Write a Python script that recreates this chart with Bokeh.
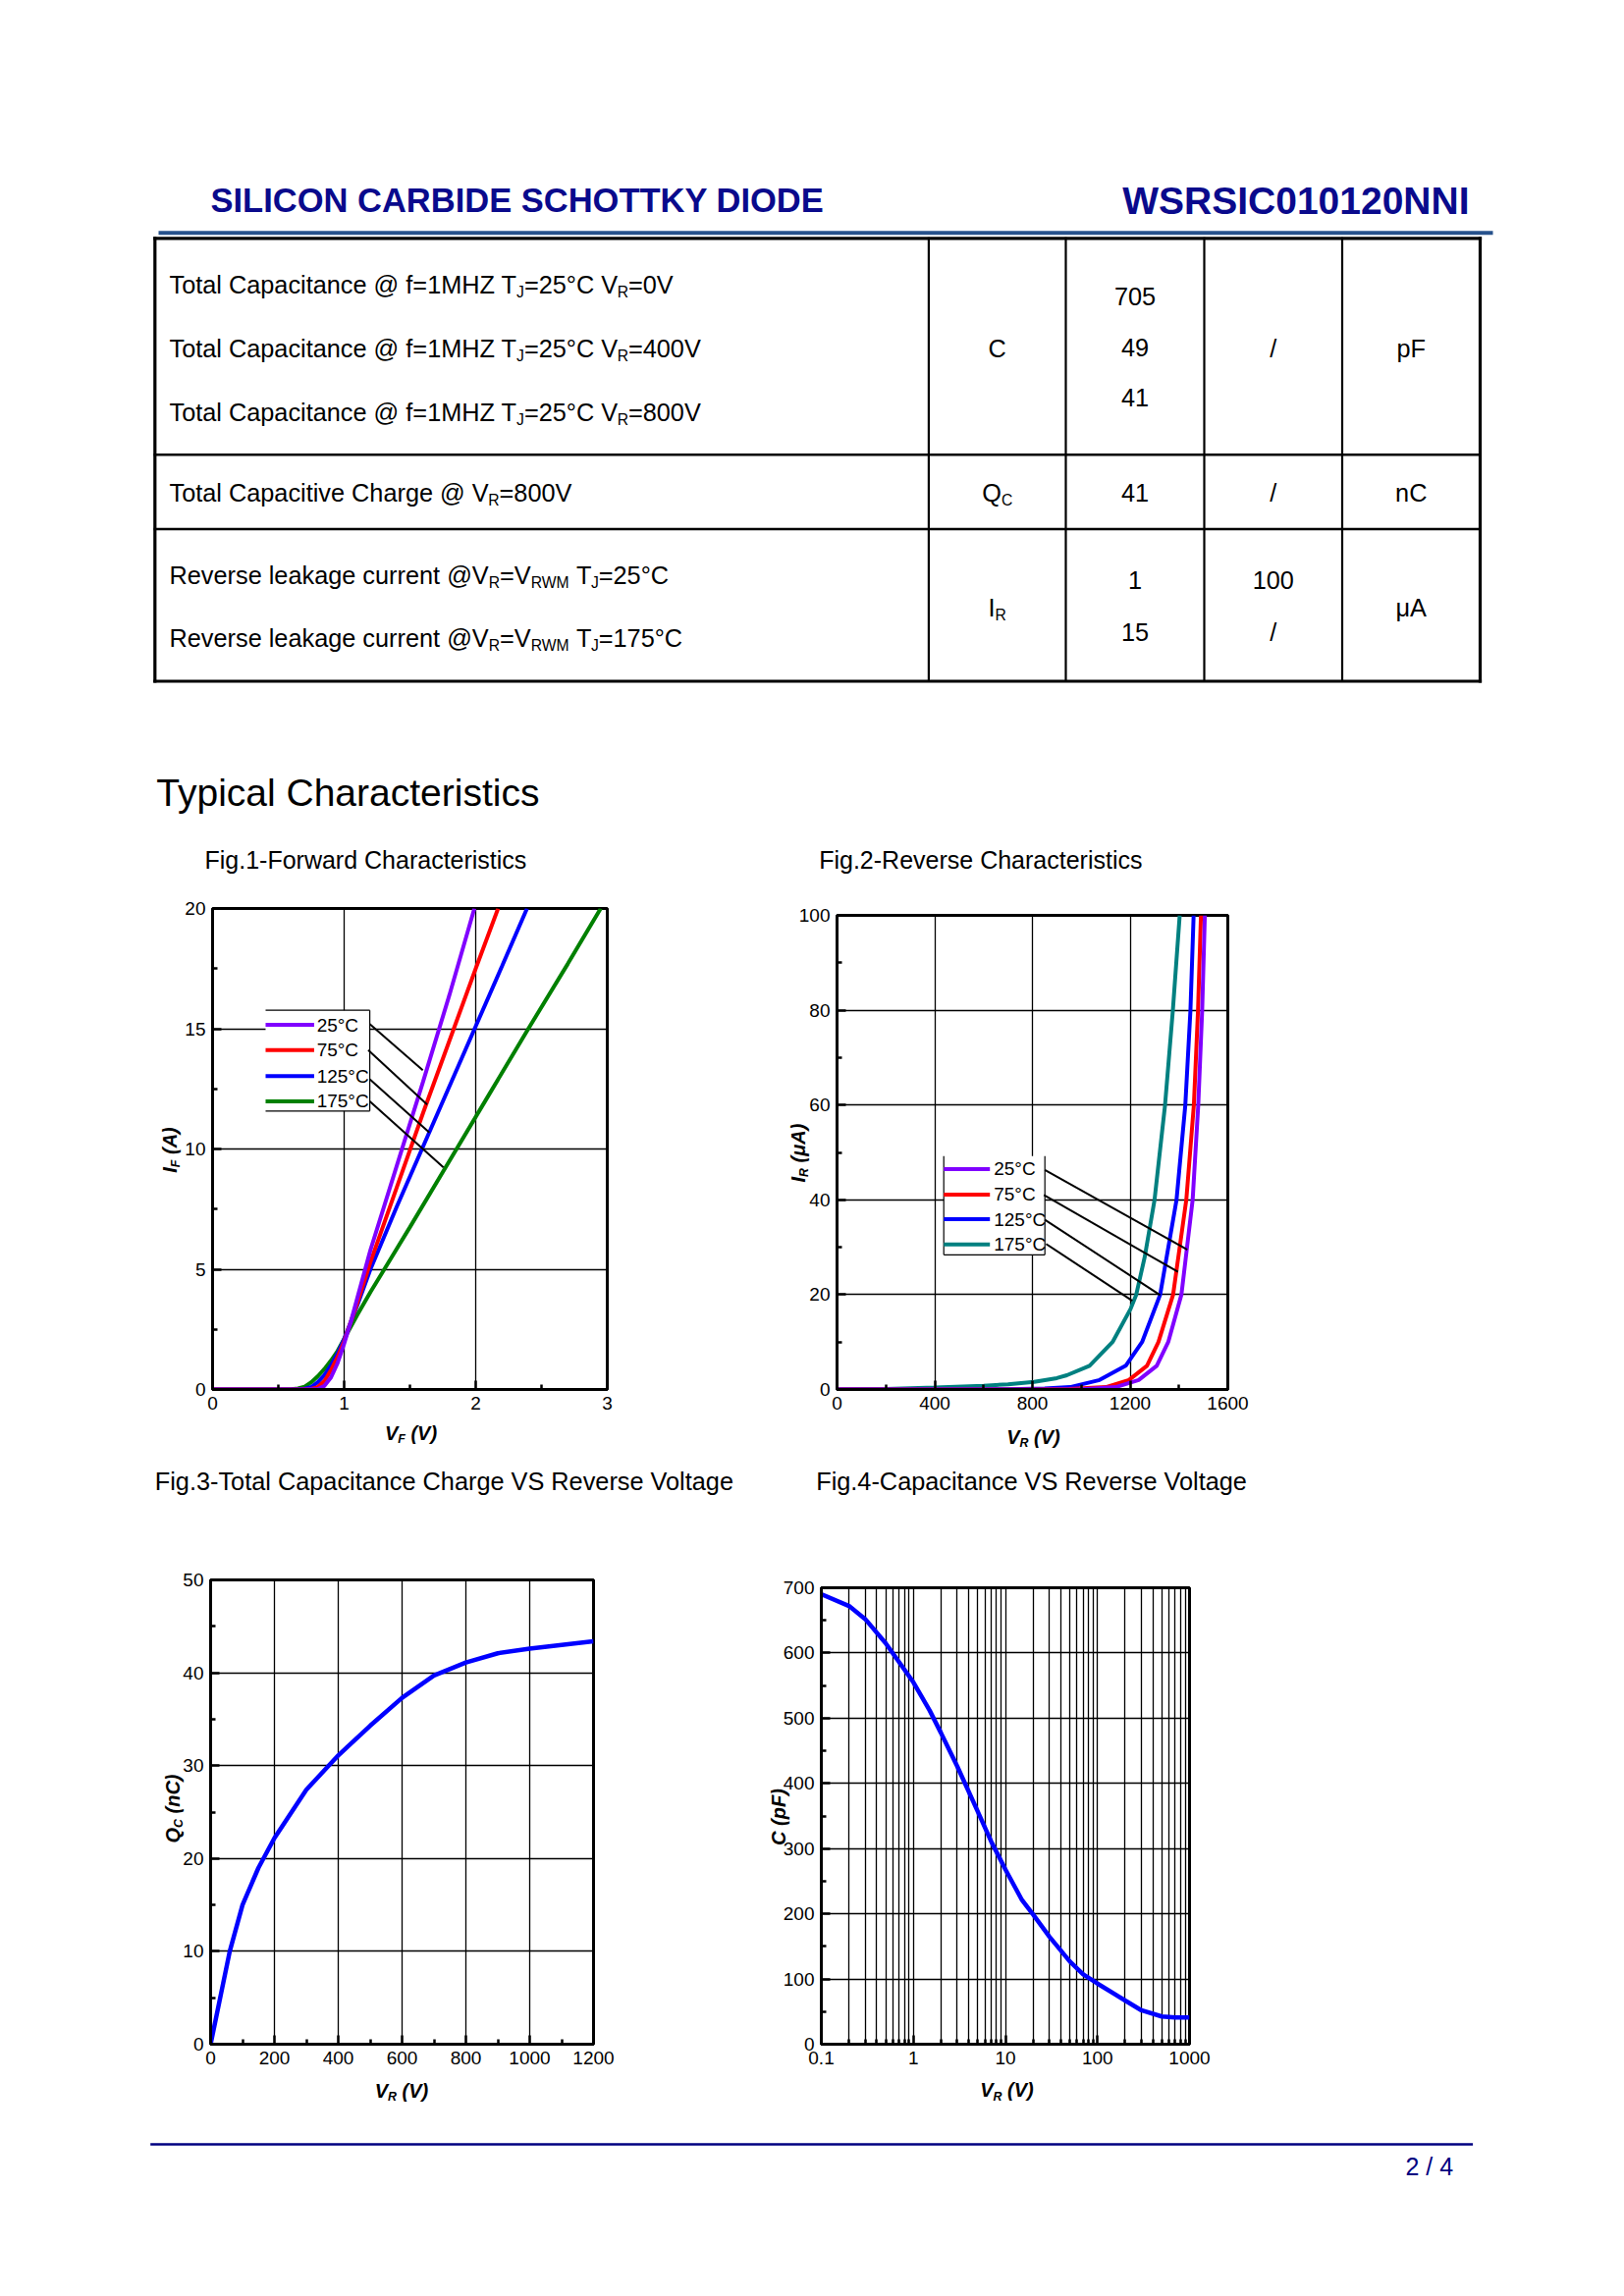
import math
from bokeh.plotting import figure
from bokeh.models import Range1d, FixedTicker, Label, CustomJSTickFormatter
from bokeh.layouts import column, row
from bokeh.embed import file_html
from bokeh.resources import INLINE
from bokeh.core.properties import value

FONT = "Liberation Sans"
NAVY = "#0a0a8c"
RULE = "#27528c"
PURPLE, RED, BLUE, GREEN, TEAL = "#8000ff", "#ff0000", "#0000ff", "#008000", "#008080"

# ---------------- data ----------------
# Fig.1 forward characteristics: VF (V) vs IF (A)
vf_25 = [0, 0.5, 0.7, 0.8, 0.85, 0.9, 0.95, 1.0, 1.05, 1.1, 1.2, 1.4, 1.6, 1.8, 1.99]
if_25 = [0, 0, 0, 0.02, 0.15, 0.5, 1.1, 1.9, 2.8, 3.8, 5.8, 9.3, 12.8, 16.4, 20]
vf_75 = [0, 0.5, 0.7, 0.75, 0.8, 0.85, 0.9, 0.95, 1.0, 1.05, 1.1, 1.2, 1.4, 1.6, 1.8, 2.0, 2.17]
if_75 = [0, 0, 0, 0.02, 0.1, 0.35, 0.8, 1.35, 2.0, 2.8, 3.6, 5.3, 8.4, 11.5, 14.5, 17.5, 20]
vf_125 = [0, 0.5, 0.65, 0.7, 0.75, 0.8, 0.85, 0.9, 0.95, 1.0, 1.1, 1.2, 1.4, 1.6, 1.8, 2.0, 2.2, 2.39]
if_125 = [0, 0, 0.01, 0.03, 0.1, 0.3, 0.6, 1.0, 1.5, 2.1, 3.5, 5.0, 7.6, 10.1, 12.6, 15.1, 17.6, 20]
vf_175 = [0, 0.5, 0.6, 0.65, 0.7, 0.75, 0.8, 0.85, 0.9, 0.95, 1.0, 1.1, 1.2, 1.3, 1.5, 1.8, 2.1, 2.4, 2.7, 2.95]
if_175 = [0, 0, 0.01, 0.04, 0.12, 0.3, 0.55, 0.85, 1.2, 1.6, 2.1, 3.1, 4.05, 4.95, 6.75, 9.5, 12.25, 15.0, 17.7, 20]

# Fig.2 reverse characteristics: VR (V) vs IR (uA)
vr_25 = [0, 400, 800, 1000, 1141, 1235, 1309, 1356, 1410, 1456, 1479, 1495, 1506]
ir_25 = [0, 0, 0, 0.05, 0.5, 2, 5, 10, 20, 40, 60, 80, 100]
vr_75 = [0, 400, 800, 950, 1101, 1195, 1269, 1316, 1376, 1430, 1461, 1478, 1490]
ir_75 = [0, 0, 0.02, 0.1, 0.5, 2, 5, 10, 20, 40, 60, 80, 100]
vr_125 = [0, 400, 700, 850, 954, 1075, 1182, 1249, 1323, 1390, 1426, 1447, 1460]
ir_125 = [0, 0, 0.05, 0.2, 0.5, 2, 5, 10, 20, 40, 60, 80, 100]
vr_175 = [0, 200, 400, 600, 700, 807, 900, 941, 1034, 1128, 1202, 1225, 1260, 1300, 1343, 1375, 1403]
ir_175 = [0, 0.1, 0.4, 0.8, 1.1, 1.6, 2.4, 3, 5, 10, 17, 20, 28, 40, 60, 80, 100]

# Fig.3 total capacitive charge: VR (V) vs QC (nC)
vr_q = [0, 60, 100, 150, 200, 300, 400, 500, 600, 700, 800, 900, 1000, 1100, 1200]
qc = [0, 10, 15, 19, 22.2, 27.4, 31.1, 34.3, 37.3, 39.7, 41.1, 42.1, 42.6, 43.0, 43.4]

# Fig.4 capacitance: VR (V) vs C (pF)
vr_c = [0.1, 0.2, 0.3, 0.5, 0.7, 1, 1.5, 2, 3, 5, 7, 10, 15, 20, 30, 50, 70, 100, 200, 300, 500, 700, 1000]
cap = [690, 672, 652, 615, 586, 555, 512, 477, 426, 357, 311, 268, 222, 199, 165, 127, 107, 93, 67, 52, 42.5, 41, 41]

# ticks
F1_XT, F1_XM = [0, 1, 2, 3], [0.5, 1.5, 2.5]
F1_YT, F1_YM = [0, 5, 10, 15, 20], [2.5, 7.5, 12.5, 17.5]
F2_XT, F2_XM = [0, 400, 800, 1200, 1600], [200, 600, 1000, 1400]
F2_YT, F2_YM = [0, 20, 40, 60, 80, 100], [10, 30, 50, 70, 90]
F3_XT, F3_XM = [0, 200, 400, 600, 800, 1000, 1200], [100, 300, 500, 700, 900, 1100]
F3_YT, F3_YM = [0, 10, 20, 30, 40, 50], [5, 15, 25, 35, 45]
F4_XT = [0.1, 1, 10, 100, 1000]
F4_XM = [m * d for d in (0.1, 1, 10, 100) for m in (2, 3, 4, 5, 6, 7, 8, 9)]
F4_YT, F4_YM = [0, 100, 200, 300, 400, 500, 600, 700], [50, 150, 250, 350, 450, 550, 650]

legend_labels = ["25°C", "75°C", "125°C", "175°C"]

# table content (text, kind) kind: n normal, s subscript
row1_desc = [
    [("Total Capacitance @ f=1MHZ T", "n"), ("J", "s"), ("=25°C V", "n"), ("R", "s"), ("=0V", "n")],
    [("Total Capacitance @ f=1MHZ T", "n"), ("J", "s"), ("=25°C V", "n"), ("R", "s"), ("=400V", "n")],
    [("Total Capacitance @ f=1MHZ T", "n"), ("J", "s"), ("=25°C V", "n"), ("R", "s"), ("=800V", "n")],
]
row2_desc = [[("Total Capacitive Charge @ V", "n"), ("R", "s"), ("=800V", "n")]]
row3_desc = [
    [("Reverse leakage current @V", "n"), ("R", "s"), ("=V", "n"), ("RWM", "s"), (" T", "n"), ("J", "s"), ("=25°C", "n")],
    [("Reverse leakage current @V", "n"), ("R", "s"), ("=V", "n"), ("RWM", "s"), (" T", "n"), ("J", "s"), ("=175°C", "n")],
]
sym_c = [("C", "n")]
sym_qc = [("Q", "n"), ("C", "s")]
sym_ir = [("I", "n"), ("R", "s")]
typ_c = ["705", "49", "41"]
typ_qc = ["41"]
typ_ir = ["1", "15"]
max_ir = ["100", "/"]
units = ["pF", "nC", "μA"]

# ---------------- text metrics (Arial / Liberation Sans) ----------------
_REG, _BOLD = {}, {}
for ch, w in zip("ABCDEFGHIJKLMNOPQRSTUVWXYZ", [667, 667, 722, 722, 667, 611, 778, 722, 278, 500, 667, 556, 833, 722, 778, 667, 778, 722, 667, 611, 722, 667, 944, 667, 667, 611]):
    _REG[ch] = w
for ch, w in zip("abcdefghijklmnopqrstuvwxyz", [556, 556, 500, 556, 556, 278, 556, 556, 222, 222, 500, 222, 833, 556, 556, 556, 556, 333, 500, 278, 556, 500, 722, 500, 500, 500]):
    _REG[ch] = w
for ch, w in zip("ABCDEFGHIJKLMNOPQRSTUVWXYZ", [722, 722, 722, 722, 667, 611, 778, 722, 278, 556, 722, 611, 833, 722, 778, 667, 778, 722, 667, 611, 722, 667, 944, 667, 667, 611]):
    _BOLD[ch] = w
for ch, w in zip("abcdefghijklmnopqrstuvwxyz", [556, 611, 556, 611, 556, 333, 611, 611, 278, 278, 556, 278, 889, 611, 611, 611, 611, 389, 556, 333, 611, 556, 778, 556, 556, 500]):
    _BOLD[ch] = w
for t in (_REG, _BOLD):
    for ch in "0123456789":
        t[ch] = 556
    t.update({" ": 278, "(": 333, ")": 333, "-": 333, ".": 278, "/": 278, "=": 584, "@": 1015, "°": 400})
_REG["μ"] = 576
_BOLD["μ"] = 611
KERN = {"To": -111, " T": -18, " V": -18}
SUB = 0.62


def tw(s, size, bold=False):
    t = _BOLD if bold else _REG
    w = sum(t.get(c, 556) for c in s)
    w += sum(KERN.get(s[i:i + 2], 0) for i in range(len(s) - 1))
    return w * size / 1000.0


def sub_drop(size, drop):
    # shift of a subscript's centre below the main text's centre
    return (0.35 * (1 - SUB) + drop) * size


def rich(p, parts, x, y, size, color="black", bold=False, align="left"):
    # y = vertical centre of the main text (page pixels, downward)
    ws = [tw(s, size * (SUB if k == "s" else 1), bold) for s, k in parts]
    tot = sum(ws)
    if align == "center":
        x -= tot / 2
    elif align == "right":
        x -= tot
    xs, ys, ts, ss = [], [], [], []
    for (s, k), w in zip(parts, ws):
        sz = size * (SUB if k == "s" else 1)
        lead = len(s) - len(s.lstrip(" "))
        xs.append(x + lead * 278 * sz / 1000)
        ys.append(y + (sub_drop(size, 0.17) if k == "s" else 0))
        ts.append(s.strip(" "))
        ss.append("%.2fpx" % sz)
        x += w
    p.text(x=xs, y=ys, text=ts, text_font_size=ss, text_font=value(FONT),
           text_font_style="bold" if bold else "normal", text_color=color,
           text_baseline="middle", text_align="left")


def no_align(p):
    if "frame_align" in p.properties():
        p.frame_align = False


PAGE_W = 1638


def page_fig(y0, y1):
    p = figure(width=PAGE_W, height=int(y1 - y0), x_range=Range1d(0, PAGE_W), y_range=Range1d(y1, y0),
               output_backend="svg", toolbar_location=None, min_border=0,
               x_axis_location=None, y_axis_location=None, title=None)
    p.min_border_left = p.min_border_right = p.min_border_top = p.min_border_bottom = 0
    p.grid.visible = False
    p.outline_line_color = None
    p.background_fill_color = "white"
    p.border_fill_color = "white"
    no_align(p)
    return p


# chart canvases and frames in page pixels
F1 = dict(cl=0, ct=890, w=640, h=600, fl=216, fr=618, ft=925, fb=1415)
F2 = dict(cl=640, ct=890, w=650, h=600, fl=852, fr=1250, ft=932, fb=1415)
F3 = dict(cl=0, ct=1550, w=630, h=610, fl=214, fr=604, ft=1609, fb=2082)
F4 = dict(cl=630, ct=1550, w=660, h=610, fl=836, fr=1211, ft=1617, fb=2082)

SPECS = {}


def chart(spec, xr, yr, xt, xm, yt, ym, log=False):
    p = figure(width=spec["w"], height=spec["h"], x_range=Range1d(*xr), y_range=Range1d(*yr),
               x_axis_type="log" if log else "linear", title=None,
               output_backend="svg", toolbar_location=None,
               min_border_left=spec["fl"] - spec["cl"],
               min_border_right=spec["cl"] + spec["w"] - spec["fr"],
               min_border_top=spec["ft"] - spec["ct"],
               min_border_bottom=spec["ct"] + spec["h"] - spec["fb"])
    no_align(p)
    p.background_fill_color = "white"
    p.border_fill_color = "white"
    p.outline_line_color = "black"
    p.outline_line_width = 3
    xtick = FixedTicker(ticks=xt, minor_ticks=xm)
    ytick = FixedTicker(ticks=yt, minor_ticks=ym)
    p.xaxis.ticker = xtick
    p.yaxis.ticker = ytick
    p.xgrid.ticker = xtick
    p.ygrid.ticker = ytick
    for ax in (p.xaxis[0], p.yaxis[0]):
        ax.axis_line_width = 3
        ax.axis_line_color = "black"
        ax.major_tick_in = 9
        ax.major_tick_out = 0
        ax.minor_tick_in = 5
        ax.minor_tick_out = 0
        ax.major_tick_line_width = 2.5
        ax.minor_tick_line_width = 2.5
        ax.major_tick_line_color = "black"
        ax.minor_tick_line_color = "black"
        ax.major_label_text_font = FONT
        ax.major_label_text_font_size = "19px"
        ax.major_label_text_color = "black"
    p.xaxis.major_label_standoff = 7
    p.yaxis.major_label_standoff = 7
    p.grid.grid_line_color = "black"
    p.grid.grid_line_width = 1.3
    p.grid.grid_line_alpha = 1.0
    SPECS[id(p)] = (spec, xr, yr, log)
    return p


def to_data(p, px, py):
    spec, xr, yr, log = SPECS[id(p)]
    fx = (px - spec["fl"]) / (spec["fr"] - spec["fl"])
    fy = (spec["fb"] - py) / (spec["fb"] - spec["ft"])
    if log:
        lx = math.log10(xr[0]) + fx * (math.log10(xr[1]) - math.log10(xr[0]))
        x = 10 ** lx
    else:
        x = xr[0] + fx * (xr[1] - xr[0])
    y = yr[0] + fy * (yr[1] - yr[0])
    return x, y


def axis_text(p, parts, cx, cy, vertical=False, size=20):
    # (cx, cy): centre of the label in page pixels
    ws = [tw(s, size * (SUB if k == "s" else 1), True) for s, k in parts]
    pos = (cy + sum(ws) / 2) if vertical else (cx - sum(ws) / 2)
    for (s, k), w in zip(parts, ws):
        sz = size * (SUB if k == "s" else 1)
        off = sub_drop(size, 0.2) if k == "s" else 0
        lead = len(s) - len(s.lstrip(" "))
        shift = lead * 278 * sz / 1000
        common = dict(text=s.strip(" "), text_font=FONT, text_font_size="%.2fpx" % sz,
                      text_font_style="bold italic", text_color="black",
                      text_baseline="middle", text_align="left",
                      x_units="data", y_units="data")
        if vertical:
            x, y = to_data(p, cx + off, pos - shift)
            lab = Label(x=x, y=y, angle=math.pi / 2, **common)
            pos -= w
        else:
            x, y = to_data(p, pos + shift, cy + off)
            lab = Label(x=x, y=y, **common)
            pos += w
        p.add_layout(lab, "left")


def legend(p, box_x, box_y, sides, sample_x, entry_y, text_x, colors, lead, lw=4):
    p.quad(left=[box_x[0]], right=[box_x[1]], bottom=[box_y[0]], top=[box_y[1]],
           fill_color="white", line_color=None)
    seg = {"top": (box_x[0], box_y[1], box_x[1], box_y[1]),
           "bottom": (box_x[0], box_y[0], box_x[1], box_y[0]),
           "left": (box_x[0], box_y[0], box_x[0], box_y[1]),
           "right": (box_x[1], box_y[0], box_x[1], box_y[1])}
    ss = [seg[s] for s in sides]
    p.segment(x0=[s[0] for s in ss], y0=[s[1] for s in ss], x1=[s[2] for s in ss], y1=[s[3] for s in ss],
              line_color="black", line_width=1.2)
    for yy, c in zip(entry_y, colors):
        p.line(x=sample_x, y=[yy, yy], line_color=c, line_width=lw)
    p.text(x=[text_x] * len(entry_y), y=entry_y, text=legend_labels, text_font=value(FONT),
           text_font_size="19px", text_baseline="middle", text_align="left", text_color="black")
    p.segment(x0=lead[0], y0=lead[1], x1=lead[2], y1=lead[3], line_color="black", line_width=2)


# ---------------- top: header + table + section titles ----------------
top = page_fig(0, 890)
top.text(x=[214], y=[203], text=["SILICON CARBIDE SCHOTTKY DIODE"], text_font=value(FONT),
         text_font_size="34.5px", text_font_style="bold", text_color=NAVY, text_baseline="middle")
top.text(x=[1496], y=[203.5], text=["WSRSIC010120NNI"], text_font=value(FONT),
         text_font_size="39px", text_font_style="bold", text_color=NAVY, text_baseline="middle",
         text_align="right")
top.segment(x0=[161], y0=[236.7], x1=[1520], y1=[236.7], line_color=RULE, line_width=4)

TAB_X = [157.3, 945.4, 1085, 1226, 1366.5, 1507]
TAB_Y = [242.3, 462.8, 538.5, 693.5]
top.segment(x0=[TAB_X[0]] * 4, x1=[TAB_X[-1]] * 4, y0=TAB_Y, y1=TAB_Y, line_color="black",
            line_width=[3.2, 2.6, 2.6, 3.2], line_cap="square")
top.segment(x0=TAB_X, x1=TAB_X, y0=[TAB_Y[0]] * 6, y1=[TAB_Y[-1]] * 6, line_color="black",
            line_width=[3.2, 2.2, 2.2, 2.2, 2.2, 3.2], line_cap="square")

TS = 25.3
col_c = [(TAB_X[i] + TAB_X[i + 1]) / 2 for i in range(1, 5)]
for parts, yc in zip(row1_desc, [289.3, 354, 419.3]):
    rich(top, parts, 172, yc, TS)
for parts, yc in zip(row2_desc, [501.7]):
    rich(top, parts, 172, yc, TS)
for parts, yc in zip(row3_desc, [585, 649]):
    rich(top, parts, 172, yc, TS)
rich(top, sym_c, col_c[0], 354, TS, align="center")
rich(top, sym_qc, col_c[0], 501.7, TS, align="center")
rich(top, sym_ir, col_c[0], 618, TS, align="center")
for t, yc in zip(typ_c, [301, 353.5, 404.5]):
    rich(top, [(t, "n")], col_c[1], yc, TS, align="center")
rich(top, [(typ_qc[0], "n")], col_c[1], 501.7, TS, align="center")
for t, yc in zip(typ_ir, [590, 643]):
    rich(top, [(t, "n")], col_c[1], yc, TS, align="center")
rich(top, [("/", "n")], col_c[2], 354, TS, align="center")
rich(top, [("/", "n")], col_c[2], 501.7, TS, align="center")
for t, yc in zip(max_ir, [590, 643]):
    rich(top, [(t, "n")], col_c[2], yc, TS, align="center")
for t, yc in zip(units, [354, 501.7, 618]):
    rich(top, [(t, "n")], col_c[3], yc, TS, align="center")

top.text(x=[158.8], y=[807], text=["Typical Characteristics"], text_font=value(FONT),
         text_font_size="39px", text_color="black", text_baseline="middle")
top.text(x=[208, 833.7], y=[875.5, 875.5], text=["Fig.1-Forward Characteristics", "Fig.2-Reverse Characteristics"],
         text_font=value(FONT), text_font_size="25px", text_color="black", text_baseline="middle")

# ---------------- Fig.1 ----------------
f1 = chart(F1, (0, 3), (0, 20), F1_XT, F1_XM, F1_YT, F1_YM)
for xs, ys, c in ((vf_175, if_175, GREEN), (vf_125, if_125, BLUE), (vf_75, if_75, RED), (vf_25, if_25, PURPLE)):
    f1.line(xs, ys, line_color=c, line_width=4)
F1_LEAD = ([1.195, 1.183, 1.195, 1.195], [15.19, 14.11, 12.9, 11.98],
           [1.598, 1.631, 1.648, 1.755], [13.28, 11.85, 10.68, 9.23])
legend(f1, (0.403, 1.195), (11.58, 15.77), ["top", "right", "bottom"], [0.403, 0.772],
       [15.16, 14.11, 13.03, 11.98], 0.792, [PURPLE, RED, BLUE, GREEN], F1_LEAD)
axis_text(f1, [("I", "n"), ("F", "s"), (" (A)", "n")], 172, 1171, vertical=True)
axis_text(f1, [("V", "n"), ("F", "s"), (" (V)", "n")], 418, 1459)

# ---------------- Fig.2 ----------------
f2 = chart(F2, (0, 1600), (0, 100), F2_XT, F2_XM, F2_YT, F2_YM)
for xs, ys, c in ((vr_175, ir_175, TEAL), (vr_125, ir_125, BLUE), (vr_75, ir_75, RED), (vr_25, ir_25, PURPLE)):
    f2.line(xs, ys, line_color=c, line_width=4)
F2_LEAD = ([851, 847, 851, 856], [46.3, 41.0, 35.8, 30.7],
           [1434, 1396, 1323, 1209], [29.5, 24.8, 19.9, 18.7])
legend(f2, (437, 851), (28.4, 49.2), ["left", "right", "bottom"], [437, 626],
       [46.5, 41.1, 35.9, 30.6], 642, [PURPLE, RED, BLUE, TEAL], F2_LEAD)
axis_text(f2, [("I", "n"), ("R", "s"), (" (μA)", "n")], 812, 1174, vertical=True)
axis_text(f2, [("V", "n"), ("R", "s"), (" (V)", "n")], 1052, 1463)

# ---------------- middle titles ----------------
mid = page_fig(1490, 1550)
mid.text(x=[157.3, 830.7], y=[1508.7, 1508.7],
         text=["Fig.3-Total Capacitance Charge VS Reverse Voltage", "Fig.4-Capacitance VS Reverse Voltage"],
         text_font=value(FONT), text_font_size="25.3px", text_color="black", text_baseline="middle")

# ---------------- Fig.3 ----------------
f3 = chart(F3, (0, 1200), (0, 50), F3_XT, F3_XM, F3_YT, F3_YM)
f3.line(vr_q, qc, line_color=BLUE, line_width=4.5)
axis_text(f3, [("Q", "n"), ("C", "s"), (" (nC)", "n")], 175, 1842, vertical=True)
axis_text(f3, [("V", "n"), ("R", "s"), (" (V)", "n")], 408.5, 2129)

# ---------------- Fig.4 ----------------
f4 = chart(F4, (0.1, 1000), (0, 700), F4_XT, F4_XM, F4_YT, F4_YM, log=True)
f4.xaxis.formatter = CustomJSTickFormatter(code="return tick.toString();")
f4.xgrid.minor_grid_line_color = "black"
f4.xgrid.minor_grid_line_width = 1.3
f4.line(vr_c, cap, line_color=BLUE, line_width=4.5)
axis_text(f4, [("C (pF)", "n")], 792, 1850.5, vertical=True)
axis_text(f4, [("V", "n"), ("R", "s"), (" (V)", "n")], 1025, 2128.5)

# ---------------- footer ----------------
bot = page_fig(2160, 2280)
bot.segment(x0=[152.7], y0=[2184], x1=[1499.6], y1=[2184], line_color="#000080", line_width=2.5)
bot.text(x=[1431], y=[2206], text=["2 / 4"], text_font=value(FONT), text_font_size="25px",
         text_color="#000080", text_baseline="middle")

layout = column(
    top,
    row(f1, f2),
    mid,
    row(f3, f4),
    bot,
)

open("out.html", "w").write(file_html(layout, INLINE))
